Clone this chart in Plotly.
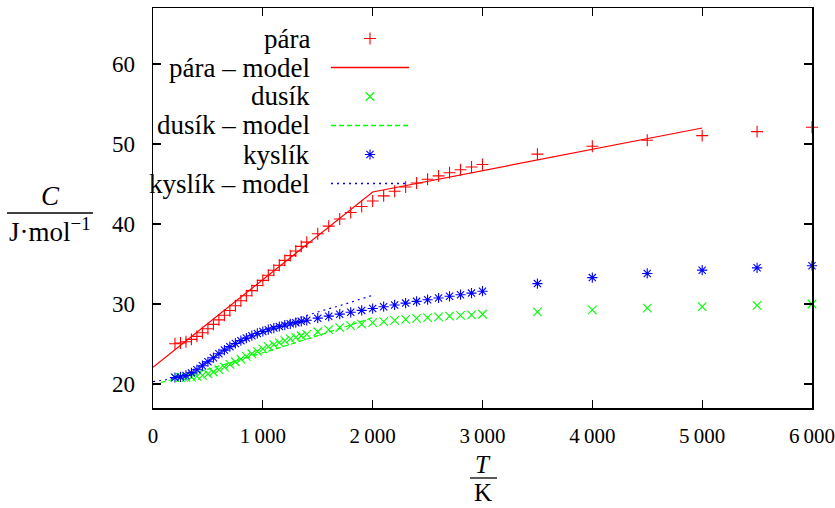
import plotly.graph_objects as go

# ---------------- data ----------------
T_data = [200, 250, 300, 350, 400, 450, 500, 550, 600, 650, 700, 750, 800, 850,
          900, 950, 1000, 1050, 1100, 1150, 1200, 1250, 1300, 1350, 1400,
          1500, 1600, 1700, 1800, 1900, 2000, 2100, 2200, 2300, 2400, 2500,
          2600, 2700, 2800, 2900, 3000, 3500, 4000, 4500, 5000, 5500, 6000]

para = [25.04, 25.12, 25.28, 25.58, 25.95, 26.40, 26.91, 27.45, 28.01, 28.59,
        29.18, 29.79, 30.41, 31.04, 31.67, 32.31, 32.95, 33.59, 34.22, 34.84,
        35.45, 36.05, 36.63, 37.20, 37.74, 38.78, 39.74, 40.62, 41.44, 42.18,
        42.87, 43.51, 44.09, 44.63, 45.13, 45.59, 46.02, 46.41, 46.78, 47.12,
        47.43, 48.74, 49.72, 50.47, 51.05, 51.55, 52.10]

dusik = [20.79, 20.80, 20.81, 20.87, 20.94, 21.08, 21.27, 21.50, 21.80, 22.11,
         22.44, 22.78, 23.12, 23.46, 23.78, 24.09, 24.38, 24.67, 24.93, 25.18,
         25.41, 25.63, 25.83, 26.03, 26.20, 26.53, 26.81, 27.06, 27.29, 27.48,
         27.66, 27.81, 27.95, 28.08, 28.20, 28.30, 28.40, 28.49, 28.57, 28.65,
         28.72, 29.02, 29.26, 29.48, 29.67, 29.82, 30.00]

kyslik = [20.81, 20.89, 21.07, 21.39, 21.79, 22.29, 22.78, 23.29, 23.78, 24.24,
          24.67, 25.07, 25.42, 25.74, 26.04, 26.32, 26.56, 26.79, 26.99, 27.19,
          27.35, 27.52, 27.67, 27.83, 27.96, 28.23, 28.48, 28.73, 28.96, 29.20,
          29.43, 29.66, 29.88, 30.11, 30.33, 30.54, 30.75, 30.96, 31.16, 31.36,
          31.60, 32.55, 33.30, 33.82, 34.23, 34.52, 34.78]

T_para_model = [0, 2000, 5000]
para_model = [22.1, 44.0, 52.0]

T_model = [0, 250, 500, 750, 1000, 1250, 1500, 1750, 2000]
dusik_model = [19.9, 20.86, 21.85, 22.86, 23.9, 24.96, 26.05, 27.16, 28.3]
kyslik_model = [20.3, 21.0, 22.9, 24.9, 26.6, 27.9, 29.0, 30.0, 31.1]

x_ticks = [0, 1000, 2000, 3000, 4000, 5000, 6000]
x_ticktext = ["0", "1\u2009000", "2\u2009000", "3\u2009000", "4\u2009000", "5\u2009000", "6\u2009000"]
y_ticks = [20, 30, 40, 50, 60]

legend_labels = ["pára", "pára – model", "dusík", "dusík – model", "kyslík", "kyslík – model"]

# ---------------- style ----------------
RED = "rgb(255,0,0)"
GREEN = "rgb(0,255,0)"
BLUE = "rgb(0,0,255)"
FONT = "Liberation Serif"
FS_XTICK = 21
FS_YTICK = 23
FS_TEXT = 27

W, H = 835, 508
L, R, TOP, B = 153, 23, 8, 100
PW, PH = W - L - R, H - TOP - B


def px_x(px):
    return (px - L) / PW


def px_y(py):
    return (H - B - py) / PH


fig = go.Figure()

# model lines
fig.add_trace(go.Scatter(x=T_para_model, y=para_model, mode="lines",
                         line=dict(color=RED, width=1.2), showlegend=False))
fig.add_trace(go.Scatter(x=T_model, y=dusik_model, mode="lines", line_shape="spline",
                         line=dict(color=GREEN, width=1.2, dash="5px,3px"), showlegend=False))
fig.add_trace(go.Scatter(x=T_model, y=kyslik_model, mode="lines", line_shape="spline",
                         line=dict(color=BLUE, width=1.2, dash="2px,4px"), showlegend=False))


def pts(y, sym, col):
    return go.Scatter(x=T_data, y=y, mode="markers", cliponaxis=False,
                      marker=dict(symbol=sym, size=8.5, color=col,
                                  line=dict(color=col, width=1.1)),
                      showlegend=False)


fig.add_trace(pts(para, "cross-thin", RED))
fig.add_trace(pts(dusik, "x-thin", GREEN))
fig.add_trace(pts(kyslik, "asterisk", BLUE))

# manual legend (right-aligned labels with samples on the right)
rows_py = [38.5, 67.5, 96.5, 125.5, 154.5, 183.5]
for lab, py in zip(legend_labels, rows_py):
    fig.add_annotation(x=px_x(312), y=px_y(py), xref="paper", yref="paper",
                       text=lab, showarrow=False, xanchor="right", yanchor="middle",
                       font=dict(family=FONT, size=FS_TEXT, color="black"))

mx = px_x(370)
lx0, lx1 = px_x(331), px_x(409)

# sample markers
for sym, col, py in [("cross-thin", RED, rows_py[0]), ("x-thin", GREEN, rows_py[2]),
                     ("asterisk", BLUE, rows_py[4])]:
    fig.add_trace(go.Scatter(x=[mx], y=[px_y(py)], xaxis="x2", yaxis="y2", mode="markers",
                             cliponaxis=False,
                             marker=dict(symbol=sym, size=8.5, color=col,
                                         line=dict(color=col, width=1.1)),
                             showlegend=False))

# sample lines
for col, dsh, py in [(RED, "solid", rows_py[1]), (GREEN, "5px,3px", rows_py[3]),
                     (BLUE, "2px,4px", rows_py[5])]:
    fig.add_trace(go.Scatter(x=[lx0, lx1], y=[px_y(py), px_y(py)], xaxis="x2", yaxis="y2",
                             mode="lines", cliponaxis=False,
                             line=dict(color=col, width=1.3, dash=dsh),
                             showlegend=False))


def label(px, py, text, size=FS_TEXT):
    fig.add_annotation(x=px_x(px), y=px_y(py), xref="paper", yref="paper", text=text,
                       showarrow=False, xanchor="center", yanchor="middle",
                       font=dict(family=FONT, size=size, color="black"))


# axis titles as fractions
label(50, 196, "<i>C</i>")
fig.add_shape(type="line", xref="paper", yref="paper", x0=px_x(7), x1=px_x(93),
              y0=px_y(213), y1=px_y(213), line=dict(color="black", width=1.3))
label(50, 230, "J·mol<sup>−1</sup>")

label(483, 464, "<i>T</i>", 25)
fig.add_shape(type="line", xref="paper", yref="paper", x0=px_x(470), x1=px_x(497),
              y0=px_y(478), y1=px_y(478), line=dict(color="black", width=1.3))
label(483, 493, "K", 25)

fig.update_layout(
    width=W, height=H,
    margin=dict(l=L, r=R, t=TOP, b=B, pad=0, autoexpand=False),
    paper_bgcolor="white", plot_bgcolor="white",
    font=dict(family=FONT, size=FS_YTICK, color="black"),
    hovermode=False,
    xaxis=dict(range=[0, 6000], tickvals=x_ticks, ticktext=x_ticktext,
               ticks="inside", ticklen=8, tickwidth=1.2, tickcolor="black",
               showline=True, linecolor="black", linewidth=1.5, mirror="ticks",
               showgrid=False, zeroline=False, ticklabelstandoff=8, automargin=False,
               ticklabeloverflow="allow",
               tickfont=dict(family=FONT, size=FS_XTICK)),
    yaxis=dict(range=[17, 67], tickvals=y_ticks,
               ticks="inside", ticklen=8, tickwidth=1.2, tickcolor="black",
               showline=True, linecolor="black", linewidth=1.5, mirror="ticks",
               showgrid=False, zeroline=False, ticklabelstandoff=12, automargin=False,
               ticklabeloverflow="allow",
               tickfont=dict(family=FONT, size=FS_YTICK)),
    xaxis2=dict(overlaying="x", range=[0, 1], visible=False),
    yaxis2=dict(overlaying="y", range=[0, 1], visible=False),
)

fig.write_html("out.html", config={"displayModeBar": False, "staticPlot": True},
               post_script="document.body.style.margin='0';document.body.style.padding='0';")
